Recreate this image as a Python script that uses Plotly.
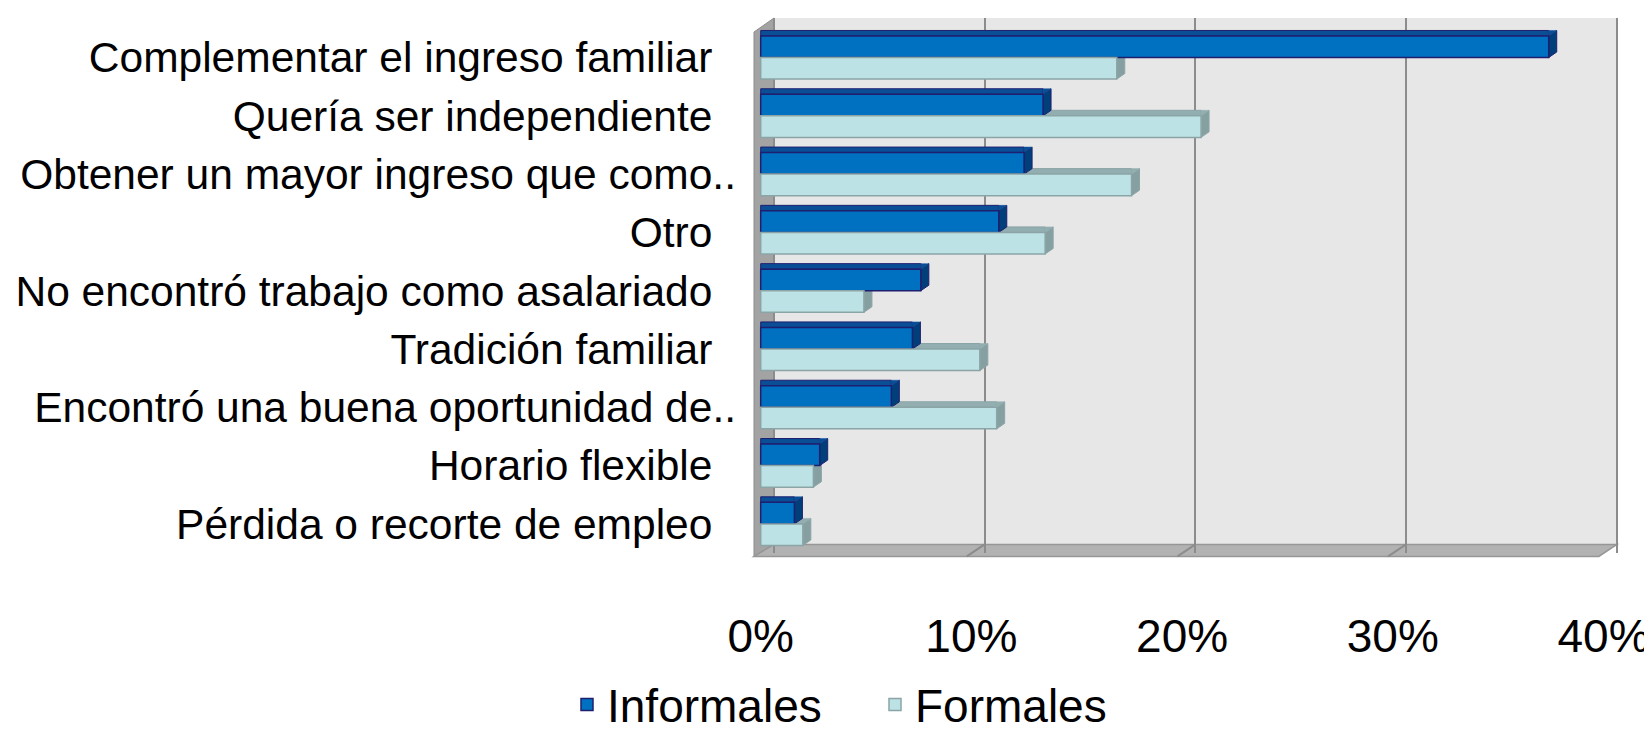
import plotly.graph_objects as go

# ---------------- data ----------------
categories = [
    "Complementar el ingreso familiar",
    "Quería ser independiente",
    "Obtener un mayor ingreso que como..",
    "Otro",
    "No encontró trabajo como asalariado",
    "Tradición familiar",
    "Encontró una buena oportunidad de..",
    "Horario flexible",
    "Pérdida o recorte de empleo",
]
informales = [37.4, 13.4, 12.5, 11.3, 7.6, 7.2, 6.2, 2.8, 1.6]
formales = [16.9, 20.9, 17.6, 13.5, 4.9, 10.4, 11.2, 2.5, 2.0]
series_names = ["Informales", "Formales"]
tick_values = [0, 10, 20, 30, 40]

# ---------------- styling / geometry ----------------
W, H = 1652, 733
PL, PR = 746, 1630          # plot area (px)
PT, PB = 10, 544.6
FONT = "Liberation Sans, Arial, sans-serif"

SCALE = 21.07                # px per percentage point
FRONT0 = 752.7               # bars origin
BACK0 = 766.0                # back wall origin
FLOOR0 = 748.0               # floor front edge origin

CAT0, CAT_STEP = 49.5, 58.25
BARGAP = 0.26
BAR_PX = (1 - BARGAP) / 2 * CAT_STEP
DX, DY = 8, 5.5              # bar depth (px)
WALL_BACK_Y = 536
FLOOR_FRONT_Y = 548
WALL_DX = BACK0 - FLOOR0

fills = ["#0070C0", "#BCE2E5"]
edges = ["#1F1F70", "#8BA5A7"]
tops = ["#0A4E96", "#93AEB0"]
sides = ["#003F7A", "#86A0A2"]

# truncated labels (ending in "..") overhang the common right edge, as in the original
tick_text = [c if c.endswith("..") else c + "\u00a0\u00a0" for c in categories]


def rng(origin):
    return [(PL - origin) / SCALE, (PR - origin) / SCALE]


def pxx(px):
    return (px - PL) / (PR - PL)


def pxy(py):
    return (PB - py) / (PB - PT)


fig = go.Figure()
legends = ["legend", "legend2"]
for name, vals, fc, ec, lg in zip(series_names, [informales, formales], fills, edges, legends):
    fig.add_trace(go.Bar(
        y=list(range(len(categories))), x=vals, name=name, orientation="h",
        marker=dict(color=fc, line=dict(color=ec, width=1.5)), legend=lg,
    ))

shapes = []
# back wall
shapes.append(dict(type="rect", xref="x2", yref="paper", x0=tick_values[0], x1=tick_values[-1],
                   y0=pxy(WALL_BACK_Y), y1=pxy(PT), fillcolor="#E7E7E7",
                   line=dict(width=0), layer="below"))
# left wall
lw = "M {a},{b} L {c},{d} L {c},{e} L {a},{f} Z".format(
    a=pxx(746), b=pxy(24), c=pxx(BACK0), d=pxy(PT), e=pxy(WALL_BACK_Y), f=pxy(FLOOR_FRONT_Y))
shapes.append(dict(type="path", xref="paper", yref="paper", path=lw,
                   fillcolor="#A3A3A3", line=dict(color="#8C8C8C", width=1), layer="below"))
# floor
right_back = BACK0 + tick_values[-1] * SCALE
right_front = right_back - WALL_DX
fl = "M {a},{f} L {c},{e} L {g},{e} L {h},{f} Z".format(
    a=pxx(746), c=pxx(BACK0), e=pxy(WALL_BACK_Y), f=pxy(FLOOR_FRONT_Y),
    g=pxx(right_back), h=pxx(right_front))
shapes.append(dict(type="path", xref="paper", yref="paper", path=fl,
                   fillcolor="#B2B2B2", line=dict(color="#969696", width=1.5), layer="between"))
for k in tick_values[1:-1]:
    shapes.append(dict(type="line", xref="x2", xsizemode="pixel", xanchor=k, x0=0, x1=-WALL_DX,
                       yref="paper", ysizemode="pixel", yanchor=pxy(WALL_BACK_Y), y0=0,
                       y1=-(FLOOR_FRONT_Y - WALL_BACK_Y),
                       line=dict(color="#8C8C8C", width=2), layer="between"))

# 3-D faces of bars (formales first so informales faces overlap them)
for s in [1, 0]:
    vals = [informales, formales][s]
    top = BAR_PX if s == 0 else 0
    bot = 0 if s == 0 else -BAR_PX
    for i, v in enumerate(vals):
        shapes.append(dict(type="rect", xref="x", x0=0, x1=v,
                           yref="y", ysizemode="pixel", yanchor=i, y0=top, y1=top + DY,
                           fillcolor=tops[s], line=dict(color=edges[s], width=1), layer="between"))
        side = f"M 0,{top} L {DX},{top + DY} L {DX},{bot + DY} L 0,{bot} Z"
        shapes.append(dict(type="path", xref="x", xsizemode="pixel", xanchor=v,
                           yref="y", ysizemode="pixel", yanchor=i, path=side,
                           fillcolor=sides[s], line=dict(color=edges[s], width=1), layer="between"))
        tri = f"M 0,{top} L {DX},{top + DY} L 0,{top + DY} Z"
        shapes.append(dict(type="path", xref="x", xsizemode="pixel", xanchor=v,
                           yref="y", ysizemode="pixel", yanchor=i, path=tri,
                           fillcolor=tops[s], line=dict(color=tops[s], width=0.5), layer="between"))

leg_common = dict(orientation="h", xanchor="left", y=pxy(696), yanchor="middle",
                  font=dict(size=46, family=FONT, color="black"),
                  bgcolor="rgba(0,0,0,0)", borderwidth=0, itemclick=False)

fig.update_layout(
    width=W, height=H,
    margin=dict(l=PL, r=W - PR, t=PT, b=H - PB, pad=0, autoexpand=False),
    paper_bgcolor="white", plot_bgcolor="rgba(0,0,0,0)",
    barmode="group", bargap=BARGAP, bargroupgap=0,
    font=dict(family=FONT, color="black"),
    shapes=shapes,
    showlegend=True,
    legend=dict(x=pxx(559), **leg_common),
    legend2=dict(x=pxx(867), **leg_common),
    xaxis=dict(range=rng(FRONT0), tickvals=tick_values, automargin=False,
               ticktext=[f"{t}%" for t in tick_values],
               showgrid=False, zeroline=False, showline=False, ticks="",
               tickfont=dict(size=46, family=FONT, color="black"), ticklabelstandoff=52),
    xaxis2=dict(range=rng(BACK0), overlaying="x", anchor="y", side="bottom", automargin=False,
                tickvals=tick_values, showgrid=True, gridcolor="#8C8C8C", gridwidth=2,
                zeroline=False, showticklabels=False, showline=False, ticks=""),
    yaxis=dict(type="linear", range=[(PB - CAT0) / CAT_STEP, (PT - CAT0) / CAT_STEP],
               tickvals=list(range(len(categories))), ticktext=tick_text, automargin=False,
               showgrid=False, zeroline=False, showline=False, ticks="",
               tickfont=dict(size=42.5, family=FONT, color="black"), ticklabelstandoff=17),
)

fig.write_html("out.html")
